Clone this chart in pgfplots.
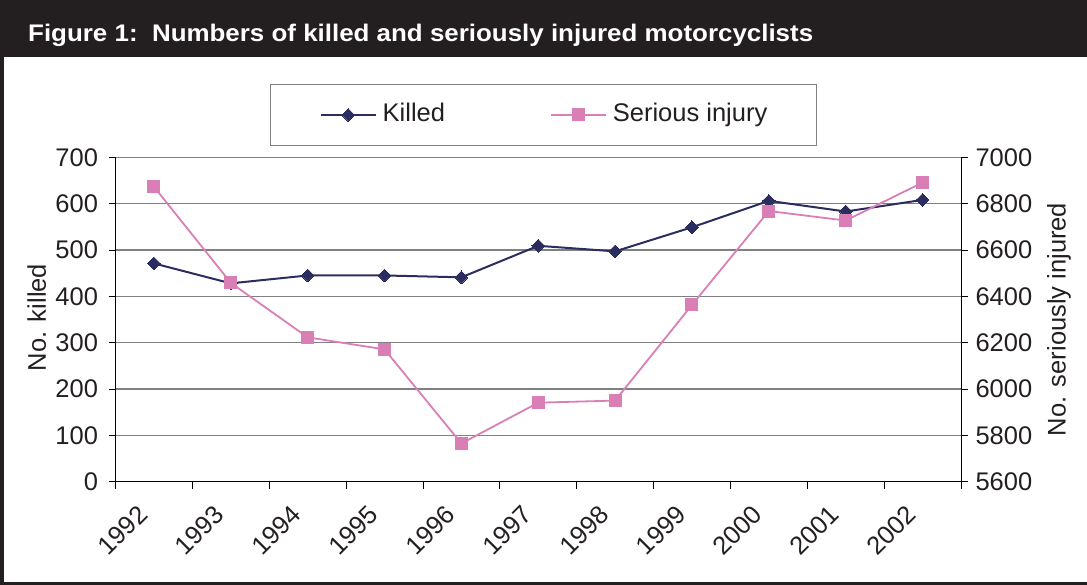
\documentclass[border=0pt]{standalone}
\usepackage{pgfplots}
\pgfplotsset{compat=1.18}
\usepackage{pgfplotstable}
\usepackage{fontspec}
\setmainfont{Liberation Sans}
\usepackage{graphicx}
\definecolor{navy}{RGB}{44,45,95}
\definecolor{pinkline}{RGB}{218,127,181}
\definecolor{barblack}{RGB}{35,31,32}
\definecolor{txt}{RGB}{35,31,32}
\definecolor{gridgray}{RGB}{128,128,128}

\pgfplotstableread{
x killed injured
1 471 6873
2 428 6458
3 445 6223
4 445 6171
5 441 5765
6 509 5941
7 497 5950
8 549 6363
9 606 6768
10 583 6727
11 608 6891
}\datatable

\pgfplotsset{
  common/.style={
    at={(115.5bp,103.3bp)}, anchor=south west,
    scale only axis, width=845.5bp, height=324.4bp,
    xmin=0.5, xmax=11.5,
    tick align=outside, major tick length=7bp, minor tick length=7bp,
    tick style={black, line width=0.8bp},
    axis line style={black, line width=0.8bp, -},
    ticklabel style={font=\fontsize{25.5bp}{30bp}\selectfont, text=txt},
    label style={font=\fontsize{25.5bp}{30bp}\selectfont, text=txt},
    /pgf/number format/.cd, 1000 sep={}, assume math mode=true,
  },
  legend image code/.code={
    \draw[mark repeat=2,mark phase=2,#1] plot coordinates {(0bp,0bp) (27.5bp,0bp) (55bp,0bp)};
  },
}

\begin{document}
\begin{tikzpicture}[x=1bp,y=1bp]
\useasboundingbox (0,0) rectangle (1087,585);
\fill[barblack] (0,528) rectangle (1087,585);
\fill[barblack] (0,0) rectangle (4,585);
\fill[barblack] (0,0) rectangle (1087,3);
\node[anchor=base west, text=white, inner sep=0pt] at (28,543) {\scalebox{1.08}[1]{\fontsize{24bp}{28bp}\selectfont\bfseries Figure 1:\ \ Numbers of killed and seriously injured motorcyclists}};

\begin{axis}[common,
  ymin=0, ymax=700, ytick={0,100,...,700},
  axis x line*=bottom, axis y line*=left,
  xtick={1,...,11},
  xticklabels={1992,1993,1994,1995,1996,1997,1998,1999,2000,2001,2002},
  major x tick style={draw=none},
  minor xtick={0.5,1.5,...,11.5},
  xticklabel style={rotate=45, anchor=east, inner xsep=15.5bp},
  xticklabel shift=10bp,
  yticklabel style={xshift=-7bp},
  ymajorgrids, grid style={gridgray, line width=1.2bp},
  ylabel={No. killed},
  ylabel style={at={(axis description cs:-0.093,0.506)}, anchor=center},
]
\addplot[navy, line width=2bp, mark=square*, mark size=4.5bp,
  mark options={rotate=45, fill=navy, draw=navy, line width=0pt}]
  table[x=x, y=killed] {\datatable};
\end{axis}

\begin{axis}[common,
  ymin=5600, ymax=7000, ytick={5600,5800,...,7000},
  axis y line*=right, axis x line=none,
  yticklabel style={xshift=4bp},
  ylabel={No. seriously injured},
  ylabel style={at={(axis description cs:1.1159,0.5)}, anchor=center},
  legend columns=2,
  legend style={at={(axis description cs:0.5062,1.1304)}, anchor=center,
    draw=gridgray, line width=1.2bp, fill=white,
    inner xsep=49bp, inner ysep=18bp,
    font=\fontsize{25.5bp}{30bp}\selectfont, text=txt,
    column sep=6bp,
    /tikz/every even column/.append style={column sep=105bp},
    nodes={inner sep=0pt, text height=19bp, text depth=5.5bp},
  },
  legend cell align=left,
]
\addlegendimage{navy, line width=2bp, mark=square*, mark size=4.5bp,
  mark options={rotate=45, fill=navy, draw=navy, line width=0pt}}
\addlegendentry{Killed}
\addplot[pinkline, line width=1.8bp, mark=square*, mark size=6bp,
  mark options={fill=pinkline, draw=pinkline, line width=0pt}]
  table[x=x, y=injured] {\datatable};
\addlegendentry{Serious injury}
\end{axis}
\end{tikzpicture}
\end{document}
